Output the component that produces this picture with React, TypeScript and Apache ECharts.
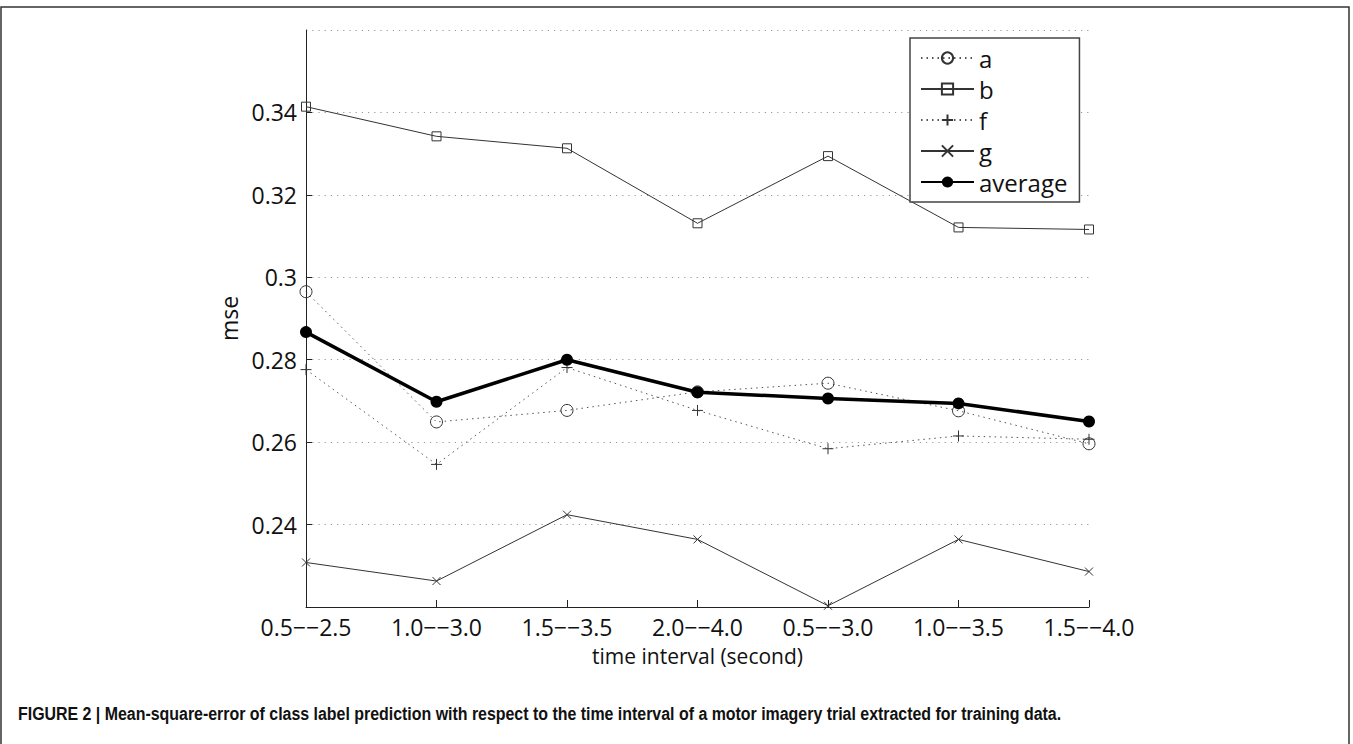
import React, { useEffect, useRef } from "react";
import * as echarts from "echarts";

const categories = ["0.5−−2.5", "1.0−−3.0", "1.5−−3.5", "2.0−−4.0", "0.5−−3.0", "1.0−−3.5", "1.5−−4.0"];
const seriesA = [0.2965, 0.2649, 0.2677, 0.2722, 0.2743, 0.2676, 0.2596];
const seriesB = [0.3414, 0.3342, 0.3313, 0.3131, 0.3294, 0.3121, 0.3116];
const seriesF = [0.2776, 0.2546, 0.2781, 0.2677, 0.2584, 0.2615, 0.2607];
const seriesG = [0.2308, 0.2263, 0.2424, 0.2364, 0.2203, 0.2364, 0.2286];
const seriesAvg = [0.2867, 0.2698, 0.28, 0.2721, 0.2706, 0.2694, 0.265];
const yMin = 0.22;
const yMax = 0.36;
const yStep = 0.02;
const caption =
  "FIGURE 2 | Mean-square-error of class label prediction with respect to the time interval of a motor imagery trial extracted for training data.";

const FONT = "'Open Sans', 'Noto Sans', sans-serif";

export default function App() {
  const ref = useRef<HTMLDivElement>(null);
  useEffect(() => {
    if (!ref.current) return;
    const chart = echarts.init(ref.current, undefined, { renderer: "svg" });
    const capSize = 19;
    let capW = 1044;
    const cv = document.createElement("canvas").getContext("2d");
    if (cv) {
      cv.font = `bold ${capSize}px 'Liberation Sans'`;
      capW = cv.measureText(caption).width;
    }
    const capScale = 1044 / capW;
    const dark = "#333";
    const mk = (name: string, data: number[], opts: any) => ({
      name,
      type: "line",
      data,
      symbolSize: opts.size,
      symbol: opts.symbol,
      lineStyle: { color: opts.lineColor || dark, width: opts.width || 1, type: opts.dotted ? [1.5, 4] : "solid" },
      itemStyle: opts.itemStyle,
      emphasis: { disabled: true },
      z: opts.z || 2,
    });
    chart.setOption({
      animation: false,
      backgroundColor: "#fff",
      textStyle: { fontFamily: FONT },
      grid: { left: 306, right: 264, top: 30, bottom: 137, containLabel: false },
      legend: {
        orient: "vertical",
        left: 910,
        top: 38,
        padding: [8, 12, 8, 10],
        borderColor: "#444",
        borderWidth: 1.5,
        backgroundColor: "#fff",
        itemWidth: 53,
        itemHeight: 14,
        itemGap: 7,
        textStyle: { fontSize: 24, lineHeight: 24, color: "#111", fontFamily: FONT },
        data: ["a", "b", "f", "g", "average"],
      },
      xAxis: {
        type: "category",
        data: categories,
        boundaryGap: false,
        name: "time interval (second)",
        nameLocation: "middle",
        nameGap: 38,
        nameTextStyle: { fontSize: 21, color: "#111", fontFamily: FONT },
        axisLine: { lineStyle: { color: "#222", width: 1 } },
        axisTick: { inside: true, length: 7, lineStyle: { color: "#222" } },
        axisLabel: { fontSize: 23, color: "#111", margin: 8, fontFamily: FONT },
        splitLine: { show: false },
      },
      yAxis: {
        type: "value",
        min: yMin,
        max: yMax,
        interval: yStep,
        name: "mse",
        nameLocation: "middle",
        nameGap: 60,
        nameTextStyle: { fontSize: 23, color: "#111", fontFamily: FONT },
        axisLine: { show: true, lineStyle: { color: "#222", width: 1 } },
        axisTick: { show: true, inside: true, length: 6, lineStyle: { color: "#222" } },
        axisLabel: { fontSize: 23, color: "#111", margin: 9, showMinLabel: false, showMaxLabel: false, fontFamily: FONT },
        splitLine: { show: true, lineStyle: { color: "#999", width: 1.2, type: [1.2, 5] } },
      },
      series: [
        mk("a", seriesA, {
          symbol: "circle",
          size: 12,
          dotted: true,
          lineColor: "#555",
          itemStyle: { color: "rgba(0,0,0,0)", borderColor: dark, borderWidth: 1 },
        }),
        mk("b", seriesB, {
          symbol: "rect",
          size: 9,
          itemStyle: { color: "rgba(0,0,0,0)", borderColor: dark, borderWidth: 1 },
        }),
        mk("f", seriesF, {
          symbol: "path://M0,5L10,5M5,0L5,10",
          size: 11,
          dotted: true,
          lineColor: "#555",
          itemStyle: { color: "none", borderColor: dark, borderWidth: 1 },
        }),
        mk("g", seriesG, {
          symbol: "path://M0,0L10,10M0,10L10,0",
          size: 8,
          itemStyle: { color: "none", borderColor: dark, borderWidth: 1 },
        }),
        mk("average", seriesAvg, {
          symbol: "circle",
          size: 12,
          width: 3.5,
          lineColor: "#000",
          itemStyle: { color: "#000", borderColor: "#000", borderWidth: 0 },
          z: 5,
        }),
      ],
      graphic: [
        {
          type: "rect",
          shape: { x: 1, y: 7, width: 1348, height: 800 },
          style: { fill: "none", stroke: "#333", lineWidth: 1.5 },
          silent: true,
        },
        {
          type: "text",
          x: 18,
          y: 713,
          scaleX: capScale,
          originX: 0,
          style: {
            text: caption,
            fontSize: capSize,
            fontWeight: "bold",
            fontFamily: "'Liberation Sans'",
            fill: "#111",
            verticalAlign: "middle",
            align: "left",
          },
          silent: true,
        },
      ],
    });
    return () => chart.dispose();
  }, []);
  return (
    <div
      ref={ref}
      style={{ position: "absolute", left: 0, top: 0, width: 1353, height: 744 }}
    />
  );
}
